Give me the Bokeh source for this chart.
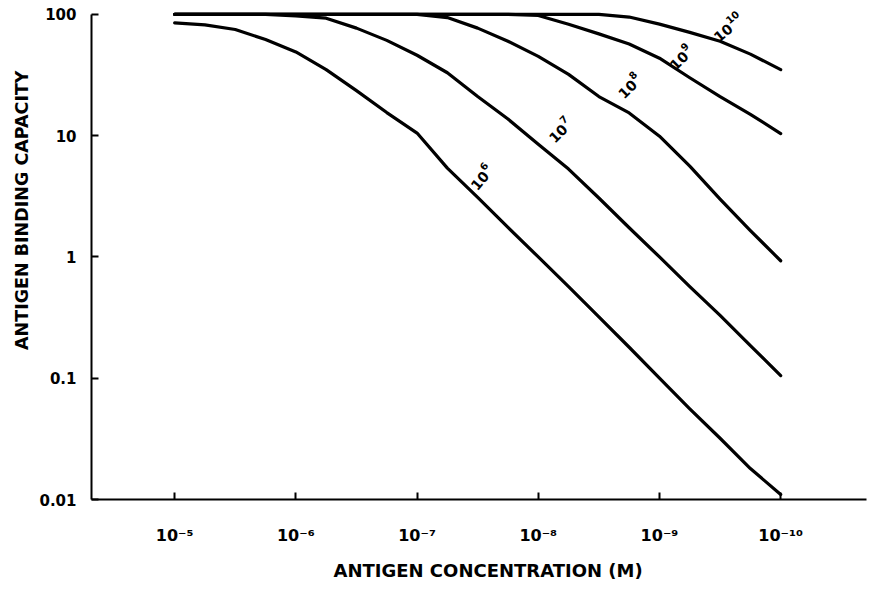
import math
from bokeh.plotting import figure
from bokeh.models import Range1d, FixedTicker, Title
from bokeh.embed import file_html
from bokeh.resources import INLINE
from bokeh.core.properties import value

# ---- data ----
log_conc = [-5.0, -5.25, -5.5, -5.75, -6.0, -6.25, -6.5, -6.75, -7.0, -7.25, -7.5,
            -7.75, -8.0, -8.25, -8.5, -8.75, -9.0, -9.25, -9.5, -9.75, -10.0]

abc_k1e6 = [85, 82, 75, 62, 49, 35, 23.5, 15.5, 10.5, 5.4, 3.1,
            1.75, 1.0, 0.57, 0.32, 0.18, 0.1, 0.056, 0.032, 0.018, 0.011]
abc_k1e7 = [100, 100, 100, 100, 97, 93, 77, 61, 46, 33, 21,
            13.7, 8.5, 5.3, 3.06, 1.74, 1.0, 0.57, 0.33, 0.186, 0.105]
abc_k1e8 = [100, 100, 100, 100, 100, 100, 100, 100, 100, 94, 77,
            60, 45, 32, 21, 15.4, 9.9, 5.6, 3.0, 1.65, 0.93]
abc_k1e9 = [100, 100, 100, 100, 100, 100, 100, 100, 100, 100, 100,
            100, 98, 83, 69, 57, 43.5, 30, 21, 15, 10.4]
abc_k1e10 = [100, 100, 100, 100, 100, 100, 100, 100, 100, 100, 100,
             100, 100, 100, 100, 95, 83, 71, 60, 47, 35]

curve_base = ["10", "10", "10", "10", "10"]
curve_exponent = ["6", "7", "8", "9", "10"]

x_tick_exponents = [-5, -6, -7, -8, -9, -10]
x_tick_labels = ["10⁻⁵", "10⁻⁶", "10⁻⁷", "10⁻⁸", "10⁻⁹", "10⁻¹⁰"]
y_ticks = [0.01, 0.1, 1, 10, 100]
y_tick_labels = ["0.01", "0.1", "1", "10", "100"]

x_title = "ANTIGEN CONCENTRATION (M)"
y_title = "ANTIGEN BINDING CAPACITY"

# ---- figure ----
FONT = "DejaVu Sans"
conc = [10 ** e for e in log_conc]
x_ticks = [10.0 ** e for e in x_tick_exponents]

X_START, X_END = -4.314, -10.708
Y_START, Y_END = -2.0, 2.04
p = figure(width=869, height=590, x_axis_type="log", y_axis_type="log",
           x_range=Range1d(10 ** X_START, 10 ** X_END),
           y_range=Range1d(10 ** Y_START, 10 ** Y_END),
           output_backend="svg", toolbar_location=None,
           min_border_left=91, min_border_right=3, min_border_top=9,
           min_border_bottom=91)
p.outline_line_color = None
p.grid.visible = False
p.background_fill_color = "white"
p.border_fill_color = "white"

for ax in (p.xaxis[0], p.yaxis[0]):
    ax.axis_line_width = 2
    ax.axis_line_color = "black"
    ax.major_tick_line_width = 2
    ax.major_tick_line_color = "black"
    ax.major_tick_in = 7
    ax.major_tick_out = 0
    ax.minor_tick_in = 0
    ax.minor_tick_out = 0
    ax.major_label_text_font = FONT
    ax.major_label_text_font_style = "bold"
    ax.major_label_text_font_size = "15px"
    ax.major_label_text_color = "black"

p.xaxis[0].ticker = FixedTicker(ticks=x_ticks)
p.xaxis[0].major_label_overrides = {t: s for t, s in zip(x_ticks, x_tick_labels)}
p.xaxis[0].major_label_text_font_size = "16px"
p.xaxis[0].major_label_standoff = 26
p.yaxis[0].ticker = FixedTicker(ticks=y_ticks)
p.yaxis[0].major_label_overrides = {t: s for t, s in zip(y_ticks, y_tick_labels)}
p.yaxis[0].major_label_standoff = 15
p.yaxis[0].bounds = (0.01, 100)

for vals in (abc_k1e6, abc_k1e7, abc_k1e8, abc_k1e9, abc_k1e10):
    p.line(conc, vals, line_width=3.2, line_color="black",
           line_join="round", line_cap="round")

# curve labels: "10" plus a raised exponent, rotated along each curve
px_per_dec_x = 775 / (X_START - X_END)
px_per_dec_y = 490 / (Y_END - Y_START)
lab_logx = [-7.467, -8.108, -8.68, -9.106, -9.464]
lab_logy = [0.566, 0.960, 1.326, 1.561, 1.795]
lab_deg = [50, 45, 45, 45, 40]
base_w, raise_h = 20.0, 6.5
exp_logx, exp_logy = [], []
for lx, ly, a in zip(lab_logx, lab_logy, lab_deg):
    t = math.radians(a)
    dx = base_w * math.cos(t) - raise_h * math.sin(t)   # px to the right
    dy = base_w * math.sin(t) + raise_h * math.cos(t)   # px upward
    exp_logx.append(lx - dx / px_per_dec_x)
    exp_logy.append(ly + dy / px_per_dec_y)
angles = [math.radians(a) for a in lab_deg]
p.text(x=[10 ** v for v in lab_logx], y=[10 ** v for v in lab_logy],
       text=curve_base, angle=angles,
       text_font=value(FONT), text_font_style="bold", text_font_size="14px",
       text_align="left", text_baseline="alphabetic", text_color="black")
p.text(x=[10 ** v for v in exp_logx], y=[10 ** v for v in exp_logy],
       text=curve_exponent, angle=angles,
       text_font=value(FONT), text_font_style="bold", text_font_size="10px",
       text_align="left", text_baseline="alphabetic", text_color="black")

# axis titles
xt = Title(text=x_title, align="left", offset=242, standoff=20,
           text_font=FONT, text_font_style="bold", text_font_size="18px",
           text_color="black")
p.add_layout(xt, "below")
yt = Title(text=y_title, align="right", offset=61, standoff=10,
           text_font=FONT, text_font_style="bold", text_font_size="17.5px",
           text_color="black")
p.add_layout(yt, "left")

open("out.html", "w").write(file_html(p, INLINE))
